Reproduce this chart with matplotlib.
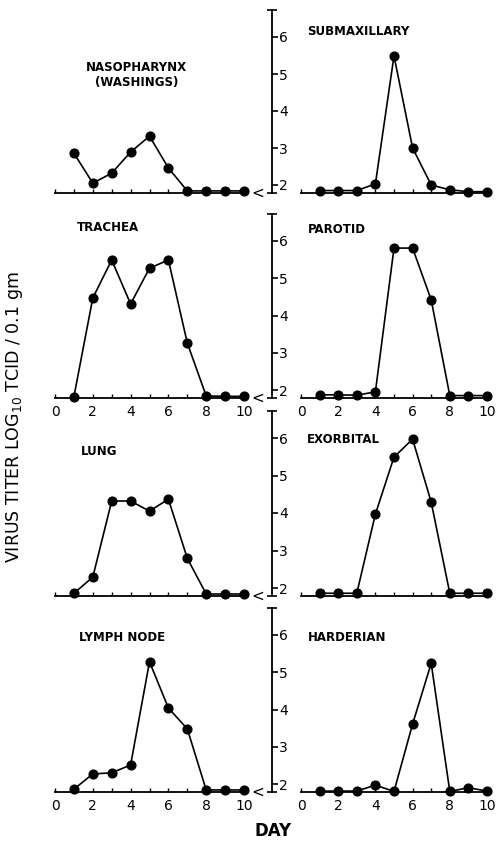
import matplotlib
matplotlib.use("Agg")
import matplotlib.pyplot as plt

# Datos (log10 TCID / 0.1 g); valores < 2 van debajo del 2
dias = [1, 2, 3, 4, 5, 6, 7, 8, 9, 10]
nasofaringe = [2.86, 2.05, 2.32, 2.89, 3.32, 2.46, 1.84, 1.84, 1.84, 1.84]
submaxilar = [1.85, 1.85, 1.85, 2.03, 5.49, 3.00, 2.00, 1.87, 1.82, 1.82]
traquea = [1.82, 4.47, 5.49, 4.31, 5.27, 5.49, 3.26, 1.84, 1.83, 1.83]
parotida = [1.87, 1.87, 1.86, 1.95, 5.81, 5.81, 4.42, 1.85, 1.85, 1.85]
pulmon = [1.86, 2.29, 4.32, 4.32, 4.05, 4.37, 2.79, 1.84, 1.84, 1.84]
exorbital = [1.86, 1.86, 1.86, 3.97, 5.49, 5.97, 4.29, 1.86, 1.86, 1.86]
ganglio = [1.86, 2.27, 2.30, 2.51, 5.28, 4.04, 3.48, 1.84, 1.84, 1.84]
harderiana = [1.81, 1.81, 1.81, 1.97, 1.80, 3.61, 5.24, 1.80, 1.90, 1.81]

titulos_izq = ["NASOPHARYNX\n(WASHINGS)", "TRACHEA", "LUNG", "LYMPH NODE"]
titulos_der = ["SUBMAXILLARY", "PAROTID", "EXORBITAL", "HARDERIAN"]
series_izq = [nasofaringe, traquea, pulmon, ganglio]
series_der = [submaxilar, parotida, exorbital, harderiana]

ticks_y = [2, 3, 4, 5, 6]
ticks_x = list(range(0, 11))
etiquetas_x = ["0", "", "2", "", "4", "", "6", "", "8", "", "10"]

# Layout en pixeles (figura 500 x 841)
W, H = 500, 841
YMIN, YMAX = 1.78, 6.72
filas = [(185, 37), (390, 241), (588, 438), (784, 635)]  # pixel y de los valores 2 y 6
pos_titulo_izq = [(4.3, 4.97, "center"), (1.16, 6.35, "left"), (1.38, 5.63, "left"), (1.27, 5.92, "left")]
pos_titulo_der = [(0.32, 6.14), (0.38, 6.32), (0.32, 5.97), (0.38, 5.92)]
con_etiquetas = [False, True, False, True]

fig = plt.figure(figsize=(W / 100, H / 100), dpi=100)


def ejes_px(x0, x1, ytop, ybot):
    return fig.add_axes([x0 / W, 1 - ybot / H, (x1 - x0) / W, (ybot - ytop) / H])


for i, (y2, y6) in enumerate(filas):
    unidad = (y2 - y6) / 4
    ybot = y2 + (2 - YMIN) * unidad
    ytop = y6 - (YMAX - 6) * unidad

    # panel izquierdo: solo eje x
    ax_l = ejes_px(55, 244, ytop, ybot)
    ax_l.set_xlim(0, 10)
    ax_l.set_ylim(YMIN, YMAX)
    for s in ["left", "top", "right"]:
        ax_l.spines[s].set_visible(False)
    ax_l.spines["bottom"].set_linewidth(1.3)
    ax_l.set_yticks([])

    # panel derecho: eje y compartido en el centro
    ax_r = ejes_px(272, 487, ytop, ybot)
    ax_r.set_xlim(-(301 - 272) / 18.6, 10)
    ax_r.set_ylim(YMIN, YMAX)
    for s in ["top", "right"]:
        ax_r.spines[s].set_visible(False)
    ax_r.spines["bottom"].set_bounds(0, 10)
    ax_r.spines["bottom"].set_linewidth(1.3)
    ax_r.spines["left"].set_linewidth(1.3)
    ax_r.set_yticks(ticks_y)
    ax_r.set_yticklabels([str(t) for t in ticks_y])
    ax_r.set_yticks([YMIN, YMAX], minor=True)
    ax_r.tick_params(axis="y", which="major", direction="in", length=4, width=1.2,
                     pad=-11.5, labelsize=10)
    ax_r.tick_params(axis="y", which="minor", direction="inout", length=7, width=1.2)

    for ax, datos in [(ax_l, series_izq[i]), (ax_r, series_der[i])]:
        ax.set_xticks(ticks_x)
        if con_etiquetas[i]:
            ax.set_xticklabels(etiquetas_x)
        else:
            ax.set_xticklabels([""] * len(ticks_x))
        ax.tick_params(axis="x", direction="in", length=3, width=1, pad=5, labelsize=10)
        ax.plot(dias, datos, color="black", lw=1.2, marker="o", ms=6.3,
                clip_on=False, zorder=3)
        ax.patch.set_visible(False)

    # simbolo "<" entre los dos paneles
    ax_r.text(-2.3, YMIN, "<", ha="center", va="center", fontsize=11, clip_on=False)

    tx, ty, ha = pos_titulo_izq[i]
    ax_l.text(tx, ty, titulos_izq[i], ha=ha, va="center", fontsize=8.5,
              fontweight="bold", linespacing=1.25)
    tx, ty = pos_titulo_der[i]
    ax_r.text(tx, ty, titulos_der[i], ha="left", va="center", fontsize=8.5,
              fontweight="bold")

fig.text(15 / W, 1 - 417 / H, "VIRUS TITER LOG$_{10}$ TCID / 0.1 gm", rotation=90,
         ha="center", va="center", fontsize=12.5)
fig.text(273 / W, 1 - 831 / H, "DAY", ha="center", va="center", fontsize=12,
         fontweight="bold")

plt.savefig("out.png", dpi=100)
